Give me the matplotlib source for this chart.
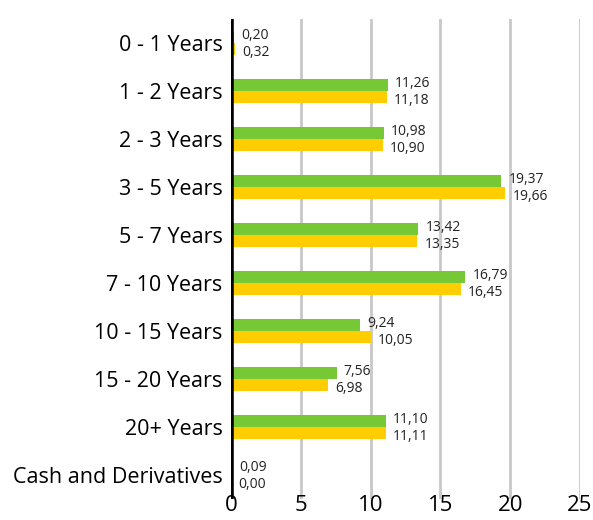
import matplotlib.pyplot as plt
import numpy as np

categories = ['0 - 1 Years', '1 - 2 Years', '2 - 3 Years', '3 - 5 Years', '5 - 7 Years',
              '7 - 10 Years', '10 - 15 Years', '15 - 20 Years', '20+ Years', 'Cash and Derivatives']
green_vals = [0.20, 11.26, 10.98, 19.37, 13.42, 16.79, 9.24, 7.56, 11.10, 0.09]
yellow_vals = [0.32, 11.18, 10.90, 19.66, 13.35, 16.45, 10.05, 6.98, 11.11, 0.00]
xticks = [0, 5, 10, 15, 20, 25]

plt.rcParams['font.family'] = ['Open Sans', 'DejaVu Sans']

fig = plt.figure(figsize=(5.93, 5.2), dpi=100)
ax = fig.add_axes([231 / 593, 1 - 499 / 520, 349 / 593, 480 / 520])

y = np.arange(len(categories))
h = 0.26
ax.barh(y - h / 2, green_vals, height=h, color='#76c834', zorder=3)
ax.barh(y + h / 2, yellow_vals, height=h, color='#ffcd00', zorder=3)

def fmt(v):
    return '{:.2f}'.format(v).replace('.', ',')

for yi, g, yl in zip(y, green_vals, yellow_vals):
    ax.text(g + 0.5, yi - h / 2 - 0.03, fmt(g), va='center', ha='left', fontsize=10, color='#222222')
    ax.text(yl + 0.5, yi + h / 2 + 0.07, fmt(yl), va='center', ha='left', fontsize=10, color='#222222')

ax.set_ylim(len(categories) - 0.5, -0.5)
ax.set_xlim(0, 25)
ax.set_yticks(y)
ax.set_yticklabels(categories, fontsize=15.5)
ax.set_xticks(xticks)
ax.set_xticklabels([str(t) for t in xticks], fontsize=16)
ax.tick_params(length=0, pad=6)
ax.tick_params(axis='x', pad=-3)

for t in xticks[1:]:
    ax.axvline(t, color='#c8c8c8', lw=2, zorder=1)
ax.axvline(0, color='black', lw=4, zorder=4)

for s in ax.spines.values():
    s.set_visible(False)

fig.savefig('out.png', dpi=100)
